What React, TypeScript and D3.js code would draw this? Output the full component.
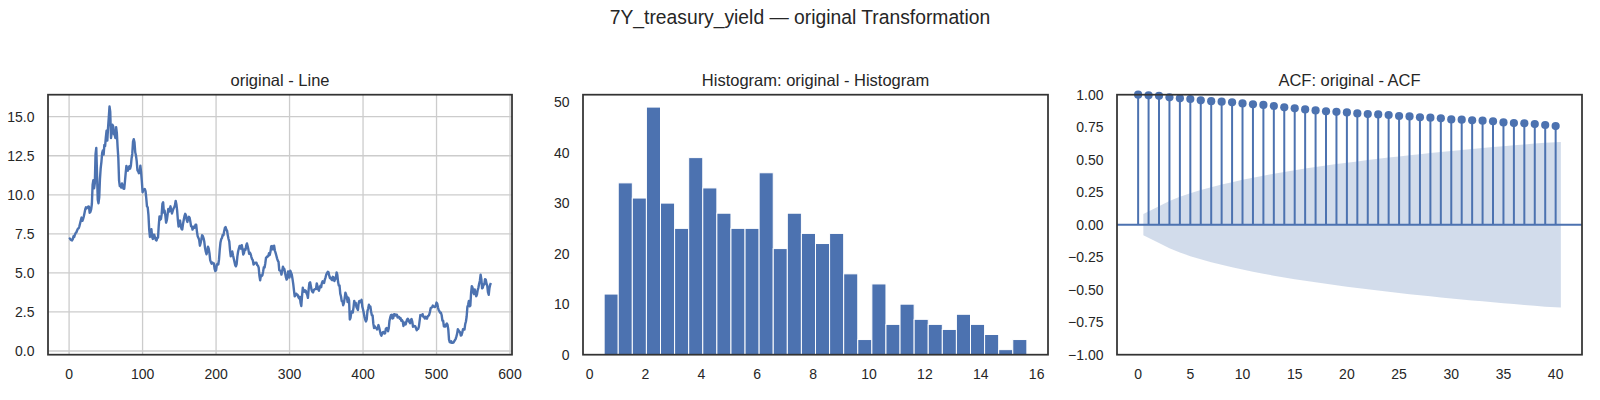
import * as d3 from "d3";

// 7Y treasury yield, monthly, Feb 1977 .. Dec 2024
const YIELDS: number[] = [
  // 1977 (Feb-Dec)
  7.16, 7.2, 7.14, 7.1, 7.08, 7.16, 7.34, 7.3, 7.46, 7.56, 7.6,
  // 1978
  7.73, 7.83, 7.86, 7.98, 8.18, 8.36, 8.54, 8.33, 8.43, 8.61, 8.84, 9.08,
  // 1979
  9.2, 9.13, 9.2, 9.25, 9.24, 8.85, 8.9, 9.06, 9.41, 10.63, 10.93, 10.42,
  // 1980
  10.74, 12.6, 13.0, 11.34, 9.68, 9.46, 9.83, 11.01, 11.71, 12.11, 12.68, 12.84,
  // 1981
  12.57, 13.19, 13.12, 13.68, 14.1, 13.47, 14.28, 14.94, 15.65, 15.3, 13.63, 13.98,
  // 1982
  14.48, 14.39, 13.88, 13.85, 13.63, 14.33, 13.95, 13.06, 12.34, 10.91, 10.55, 10.54,
  // 1983
  10.46, 10.72, 10.51, 10.4, 10.38, 10.85, 11.38, 11.85, 11.65, 11.54, 11.69, 11.83,
  // 1984
  11.67, 11.84, 12.32, 12.63, 13.41, 13.56, 13.36, 12.72, 12.52, 12.16, 11.57, 11.5,
  // 1985
  11.38, 11.51, 11.86, 11.43, 10.85, 10.16, 10.31, 10.33, 10.37, 10.24, 9.78, 9.26,
  // 1986
  9.19, 8.7, 7.78, 7.3, 7.71, 7.8, 7.3, 7.17, 7.45, 7.43, 7.25, 7.11,
  // 1987
  7.08, 7.25, 7.25, 8.02, 8.61, 8.4, 8.45, 8.76, 9.42, 9.52, 8.86, 8.99,
  // 1988
  8.67, 8.21, 8.37, 8.72, 9.09, 8.92, 9.06, 9.26, 8.98, 8.8, 8.96, 9.11,
  // 1989
  9.2, 9.32, 9.61, 9.4, 9.0, 8.4, 7.96, 8.24, 8.35, 8.0, 7.82, 7.78,
  // 1990
  8.13, 8.39, 8.63, 8.78, 8.69, 8.4, 8.26, 8.5, 8.59, 8.53, 8.28, 7.98,
  // 1991
  7.98, 7.77, 7.96, 7.88, 7.9, 8.08, 8.08, 7.63, 7.34, 7.24, 7.11, 6.74,
  // 1992
  6.92, 7.15, 7.41, 7.36, 7.21, 6.99, 6.59, 6.36, 6.19, 6.37, 6.68, 6.55,
  // 1993
  6.26, 5.82, 5.69, 5.59, 5.67, 5.61, 5.6, 5.26, 5.12, 5.17, 5.52, 5.58,
  // 1994
  5.54, 5.86, 6.49, 6.95, 7.16, 7.23, 7.43, 7.41, 7.66, 7.88, 7.93, 7.77,
  // 1995
  7.7, 7.39, 7.17, 7.0, 6.44, 6.06, 6.17, 6.37, 6.13, 5.92, 5.71, 5.5,
  // 1996
  5.42, 5.56, 6.06, 6.37, 6.56, 6.72, 6.73, 6.55, 6.77, 6.51, 6.18, 6.28,
  // 1997
  6.52, 6.47, 6.74, 6.89, 6.71, 6.49, 6.22, 6.3, 6.21, 6.03, 5.88, 5.81,
  // 1998
  5.54, 5.57, 5.65, 5.64, 5.65, 5.5, 5.46, 5.34, 4.81, 4.53, 4.83, 4.8,
  // 1999
  4.84, 5.08, 5.37, 5.35, 5.62, 5.98, 5.99, 6.07, 6.07, 6.26, 6.15, 6.35,
  // 2000
  6.7, 6.72, 6.51, 6.52, 6.74, 6.43, 6.28, 6.11, 5.93, 5.78, 5.7, 5.17,
  // 2001
  5.16, 5.1, 4.89, 5.14, 5.39, 5.28, 5.24, 4.97, 4.73, 4.57, 4.65, 5.09,
  // 2002
  4.79, 4.71, 5.14, 5.02, 4.9, 4.62, 4.3, 3.88, 3.5, 3.54, 3.67, 3.62,
  // 2003
  3.6, 3.45, 3.37, 3.47, 3.07, 2.88, 3.52, 4.05, 3.83, 3.8, 3.89, 3.86,
  // 2004
  3.7, 3.6, 3.4, 3.95, 4.35, 4.4, 4.15, 3.9, 3.8, 3.75, 3.9, 3.95,
  // 2005
  3.97, 3.97, 4.33, 4.16, 3.94, 3.86, 4.06, 4.18, 4.08, 4.36, 4.46, 4.39,
  // 2006
  4.35, 4.57, 4.72, 4.9, 5.0, 5.07, 5.04, 4.82, 4.67, 4.69, 4.58, 4.53,
  // 2007
  4.75, 4.71, 4.48, 4.59, 4.67, 5.03, 4.88, 4.43, 4.2, 4.2, 3.67, 3.49,
  // 2008
  3.19, 3.19, 2.93, 3.08, 3.38, 3.73, 3.6, 3.45, 3.14, 3.41, 3.25, 2.02,
  // 2009
  2.13, 2.49, 2.55, 2.46, 2.78, 3.21, 3.0, 3.09, 2.82, 2.73, 2.62, 3.06,
  // 2010
  3.21, 3.12, 3.16, 3.28, 2.84, 2.66, 2.43, 2.18, 2.0, 1.89, 2.03, 2.55,
  // 2011
  2.72, 2.96, 2.8, 2.84, 2.51, 2.29, 2.28, 1.75, 1.47, 1.58, 1.49, 1.47,
  // 2012
  1.38, 1.47, 1.66, 1.49, 1.28, 1.07, 0.98, 1.12, 1.21, 1.22, 1.12, 1.13,
  // 2013
  1.42, 1.47, 1.44, 1.26, 1.46, 1.94, 2.15, 2.3, 2.32, 2.08, 2.1, 2.34,
  // 2014
  2.36, 2.27, 2.33, 2.33, 2.15, 2.19, 2.18, 2.07, 2.11, 1.94, 1.98, 1.9,
  // 2015
  1.6, 1.76, 1.82, 1.7, 1.88, 2.03, 2.07, 1.92, 1.86, 1.78, 2.0, 2.04,
  // 2016
  1.88, 1.55, 1.61, 1.58, 1.59, 1.47, 1.33, 1.4, 1.42, 1.56, 1.93, 2.3,
  // 2017
  2.26, 2.27, 2.36, 2.19, 2.19, 2.08, 2.19, 2.07, 2.07, 2.22, 2.25, 2.32,
  // 2018
  2.5, 2.74, 2.78, 2.8, 2.91, 2.85, 2.83, 2.81, 2.91, 3.1, 3.03, 2.78,
  // 2019
  2.61, 2.55, 2.44, 2.45, 2.29, 1.94, 1.94, 1.58, 1.57, 1.57, 1.7, 1.76,
  // 2020
  1.67, 1.38, 0.73, 0.57, 0.55, 0.62, 0.52, 0.53, 0.54, 0.62, 0.7, 0.77,
  // 2021
  0.92, 1.1, 1.39, 1.32, 1.25, 1.21, 0.99, 1.01, 1.17, 1.39, 1.4, 1.37,
  // 2022
  1.71, 1.89, 2.21, 2.82, 2.96, 3.21, 2.86, 2.9, 3.7, 4.15, 4.06, 3.76,
  // 2023
  3.64, 3.94, 3.74, 3.51, 3.62, 3.9, 4.06, 4.31, 4.5, 4.88, 4.6, 4.01,
  // 2024
  4.06, 4.28, 4.26, 4.6, 4.56, 4.32, 4.19, 3.76, 3.6, 4.01, 4.24, 4.35,
];

// histogram counts, 30 equal bins between min and max of the series
const HIST_COUNTS = [
  12, 34, 31, 49, 30, 25, 39, 33, 28, 25, 25, 36, 21, 28, 24,
  22, 24, 16, 3, 14, 6, 10, 7, 6, 5, 8, 6, 4, 1, 3,
];

// autocorrelation, lags 0..40
const ACF_VALUES = [
  1.0, 0.995, 0.991, 0.98, 0.972, 0.967, 0.957, 0.95, 0.946, 0.941,
  0.933, 0.926, 0.921, 0.913, 0.903, 0.895, 0.887, 0.879, 0.872, 0.868,
  0.864, 0.856, 0.851, 0.848, 0.844, 0.836, 0.833, 0.826, 0.823, 0.818,
  0.81, 0.808, 0.803, 0.8, 0.795, 0.787, 0.782, 0.78, 0.774, 0.767, 0.759,
];

const LINE_X_TICKS = [0, 100, 200, 300, 400, 500, 600];
const LINE_Y_TICKS = [0, 2.5, 5, 7.5, 10, 12.5, 15];
const HIST_X_TICKS = [0, 2, 4, 6, 8, 10, 12, 14, 16];
const HIST_Y_TICKS = [0, 10, 20, 30, 40, 50];
const ACF_X_TICKS = [0, 5, 10, 15, 20, 25, 30, 35, 40];
const ACF_Y_TICKS = [-1, -0.75, -0.5, -0.25, 0, 0.25, 0.5, 0.75, 1];

const SUPTITLE = "7Y_treasury_yield — original Transformation";
const TITLES = ["original - Line", "Histogram: original - Histogram", "ACF: original - ACF"];

const W = 1600;
const H = 400;
const TOP = 94.7;
const BOTTOM = 354.7;
const PANELS = [
  { left: 48, right: 512 },
  { left: 583, right: 1048 },
  { left: 1117, right: 1582 },
];
const BLUE = "#4c72b0";
const TEXT = "#262626";
const FONT = "'Liberation Sans', Arial, sans-serif";
const TICK_SIZE = 14;

type Scale = d3.ScaleLinear<number, number>;

function Axes({
  idx,
  x,
  y,
  xTicks,
  yTicks,
  xFmt,
  yFmt,
  grid,
  children,
}: {
  idx: number;
  x: Scale;
  y: Scale;
  xTicks: number[];
  yTicks: number[];
  xFmt: (v: number) => string;
  yFmt: (v: number) => string;
  grid?: boolean;
  children: React.ReactNode;
}) {
  const { left, right } = PANELS[idx];
  return (
    <g>
      {grid && (
        <g stroke="#cccccc" strokeWidth={1.3}>
          {xTicks.map((t) => (
            <line key={"gx" + t} x1={x(t)} x2={x(t)} y1={TOP} y2={BOTTOM} />
          ))}
          {yTicks.map((t) => (
            <line key={"gy" + t} x1={left} x2={right} y1={y(t)} y2={y(t)} />
          ))}
        </g>
      )}
      {children}
      <rect
        x={left}
        y={TOP}
        width={right - left}
        height={BOTTOM - TOP}
        fill="none"
        stroke="#333333"
        strokeWidth={1.75}
      />
      <g fontSize={TICK_SIZE} fill={TEXT}>
        {xTicks.map((t) => (
          <text key={"tx" + t} x={x(t)} y={378.5} textAnchor="middle">
            {xFmt(t)}
          </text>
        ))}
        {yTicks.map((t) => (
          <text key={"ty" + t} x={left - 13.5} y={y(t)} dy="0.36em" textAnchor="end">
            {yFmt(t)}
          </text>
        ))}
      </g>
      <text
        x={(left + right) / 2}
        y={86}
        textAnchor="middle"
        fontSize={16.5}
        fill={TEXT}
      >
        {TITLES[idx]}
      </text>
    </g>
  );
}

function LinePanel() {
  const { left, right } = PANELS[0];
  const n = YIELDS.length - 1;
  const x = d3.scaleLinear().domain([-0.05 * n, 1.05 * n]).range([left, right]);
  const [lo, hi] = d3.extent(YIELDS) as [number, number];
  const pad = (hi - lo) * 0.05;
  const y = d3.scaleLinear().domain([lo - pad, hi + pad]).range([BOTTOM, TOP]);
  const line = d3
    .line<number>()
    .x((_, i) => x(i))
    .y((d) => y(d));
  return (
    <Axes
      idx={0}
      x={x}
      y={y}
      xTicks={LINE_X_TICKS}
      yTicks={LINE_Y_TICKS}
      xFmt={d3.format("d")}
      yFmt={d3.format(".1f")}
      grid
    >
      <path
        d={line(YIELDS) ?? ""}
        fill="none"
        stroke={BLUE}
        strokeWidth={2.4}
        strokeLinejoin="round"
      />
    </Axes>
  );
}

function HistPanel() {
  const { left, right } = PANELS[1];
  const [lo, hi] = d3.extent(YIELDS) as [number, number];
  const step = (hi - lo) / HIST_COUNTS.length;
  const pad = (hi - lo) * 0.05;
  const x = d3.scaleLinear().domain([lo - pad, hi + pad]).range([left, right]);
  const y = d3
    .scaleLinear()
    .domain([0, (d3.max(HIST_COUNTS) as number) * 1.05])
    .range([BOTTOM, TOP]);
  return (
    <Axes
      idx={1}
      x={x}
      y={y}
      xTicks={HIST_X_TICKS}
      yTicks={HIST_Y_TICKS}
      xFmt={d3.format("d")}
      yFmt={d3.format("d")}
    >
      {HIST_COUNTS.map((c, i) => {
        const x0 = x(lo + i * step);
        const x1 = x(lo + (i + 1) * step);
        return (
          <rect
            key={i}
            x={x0}
            y={y(c)}
            width={x1 - x0}
            height={y(0) - y(c)}
            fill={BLUE}
            stroke="#ffffff"
            strokeWidth={1}
          />
        );
      })}
    </Axes>
  );
}

function AcfPanel() {
  const { left, right } = PANELS[2];
  const maxLag = ACF_VALUES.length - 1;
  const x = d3
    .scaleLinear()
    .domain([-0.05 * (maxLag + 0.5), 1.05 * (maxLag + 0.5)])
    .range([left, right]);
  const y = d3.scaleLinear().domain([-1, 1]).range([BOTTOM, TOP]);
  const nObs = YIELDS.length;

  // Bartlett confidence band for lags 1..maxLag
  const band: { lag: number; hw: number }[] = [];
  let cum = 0;
  for (let k = 1; k <= maxLag; k++) {
    const se = Math.sqrt((1 + 2 * cum) / nObs);
    let lag = k;
    if (k === 1) lag -= 0.5;
    if (k === maxLag) lag += 0.5;
    band.push({ lag, hw: 1.96 * se });
    cum += ACF_VALUES[k] * ACF_VALUES[k];
  }
  const area = d3
    .area<{ lag: number; hw: number }>()
    .x((d) => x(d.lag))
    .y0((d) => y(-d.hw))
    .y1((d) => y(d.hw));

  return (
    <Axes
      idx={2}
      x={x}
      y={y}
      xTicks={ACF_X_TICKS}
      yTicks={ACF_Y_TICKS}
      xFmt={d3.format("d")}
      yFmt={d3.format(".2f")}
    >
      <line x1={left} x2={right} y1={y(0)} y2={y(0)} stroke={BLUE} strokeWidth={2} />
      {ACF_VALUES.map((v, k) => (
        <g key={k}>
          <line x1={x(k)} x2={x(k)} y1={y(0)} y2={y(v)} stroke={BLUE} strokeWidth={2} />
          <circle cx={x(k)} cy={y(v)} r={4.1} fill={BLUE} />
        </g>
      ))}
      <path d={area(band) ?? ""} fill={BLUE} fillOpacity={0.25} stroke="none" />
    </Axes>
  );
}

export default function App() {
  return (
    <svg
      width={W}
      height={H}
      viewBox={`0 0 ${W} ${H}`}
      style={{ position: "absolute", left: 0, top: 0, background: "#ffffff" }}
      fontFamily={FONT}
    >
      <rect width={W} height={H} fill="#ffffff" />
      <text x={800} y={24} textAnchor="middle" fontSize={19.3} fill={TEXT}>
        {SUPTITLE}
      </text>
      <LinePanel />
      <HistPanel />
      <AcfPanel />
    </svg>
  );
}
